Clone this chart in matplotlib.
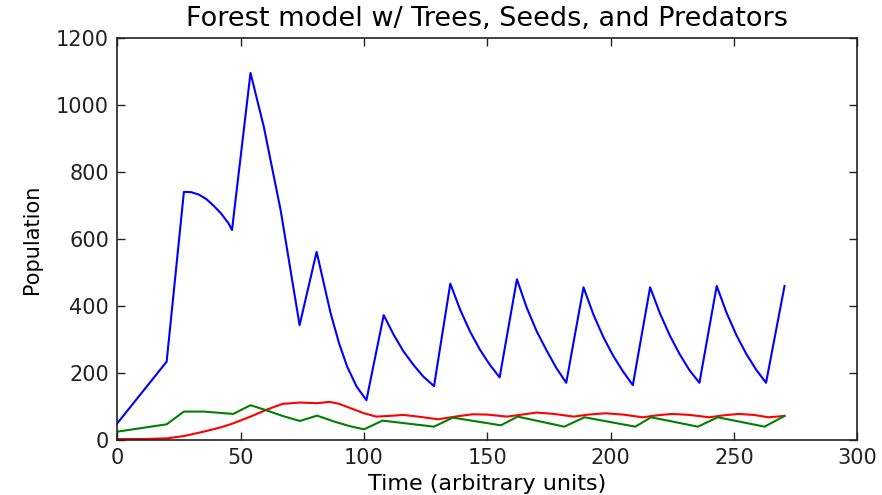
"""
Forest model: trees, seeds and predators over time
"""
import numpy as np
import matplotlib
matplotlib.use("Agg")
import matplotlib.pyplot as plt

# Trees (blue)
t_trees = [0, 20, 27, 30, 33, 36, 39, 42, 45, 46.5, 54, 59.4, 66.2, 73.9,
           80.8, 86.5, 89.9, 93.2, 97, 101,
           108, 112, 116, 120, 124, 128.4,
           135, 139, 143, 147, 151, 155,
           162, 166, 170, 174, 178, 182,
           189, 193, 197, 201, 205, 209,
           216, 220, 224, 228, 232, 236,
           243, 247, 251, 255, 259, 263, 270.5]
trees = [50, 234, 741, 740, 733, 720, 700, 677, 648, 627, 1096, 935, 687, 343,
         562, 378, 289, 219, 160, 119,
         373, 315, 265, 225, 190, 161,
         467, 389, 324, 270, 225, 187,
         480, 395, 325, 268, 215, 171,
         456, 375, 308, 252, 205, 164,
         456, 378, 312, 256, 208, 171,
         460, 380, 313, 257, 210, 171, 460]

# Seeds (green)
t_seeds = [0, 20, 27, 35, 47, 54, 60, 67, 74, 81, 88, 94, 100, 107.5,
           128.4, 136, 155.5, 162.3, 181.2, 189.4, 210, 216.4, 235.4, 243.4, 262.4, 270.5]
seeds = [25, 47, 85, 85, 78, 104, 90, 72, 57, 73, 55, 42, 32, 58,
         40, 67, 44, 70, 40, 68, 40, 68, 40, 68, 40, 72]

# Predators (red)
t_pred = [0, 10, 20, 27, 35, 42, 47, 54, 61, 67, 74, 81, 86, 90, 95, 100, 105, 110, 116,
          122, 130, 137, 144, 150, 158, 164, 170, 177, 185, 191, 198, 205, 213, 219, 225,
          232, 240, 246, 252, 258, 264, 270.5]
pred = [3, 3, 5, 12, 25, 38, 50, 70, 92, 108, 112, 110, 114, 108, 94, 80, 70, 72, 75,
        70, 62, 70, 77, 76, 70, 76, 82, 78, 70, 76, 80, 76, 68, 74, 78,
        75, 68, 74, 78, 75, 68, 72]

fig = plt.figure(figsize=(8.82, 4.95), dpi=100)
ax = fig.add_axes([0.133, 0.111, 0.839, 0.812])

ax.plot(t_trees, trees, color='#0000ff', lw=1.5)
ax.plot(t_pred, pred, color='#ff0000', lw=1.5)
ax.plot(t_seeds, seeds, color='#008000', lw=1.5)

ax.set_xlim(0, 300)
ax.set_ylim(0, 1200)
ax.set_xticks(np.arange(0, 301, 50))
ax.set_yticks(np.arange(0, 1201, 200))
ax.tick_params(direction='in', top=True, right=True, length=6, width=1,
               labelsize=15, pad=6, colors='#222222')
for s in ax.spines.values():
    s.set_linewidth(1.2)
    s.set_color('#222222')

ax.set_title('Forest model w/ Trees, Seeds, and Predators', fontsize=19.5, pad=9)
ax.set_xlabel('Time (arbitrary units)', fontsize=16, labelpad=4)
ax.set_ylabel('Population', fontsize=15, labelpad=10)

fig.savefig('out.png', dpi=100, facecolor='white')
